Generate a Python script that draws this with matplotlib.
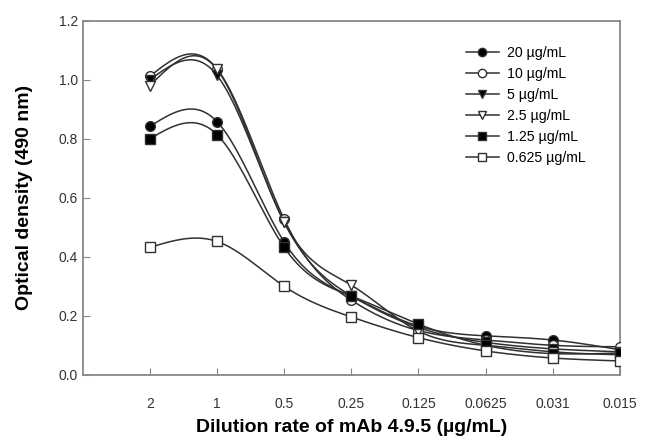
import matplotlib
matplotlib.use('Agg')
import matplotlib.pyplot as plt
import numpy as np

plt.rcParams['font.family'] = ['Liberation Sans', 'DejaVu Sans']

dilutions = ['2', '1', '0.5', '0.25', '0.125', '0.0625', '0.031', '0.015']
labels = ['20 \u00b5g/mL', '10 \u00b5g/mL', '5 \u00b5g/mL', '2.5 \u00b5g/mL',
          '1.25 \u00b5g/mL', '0.625 \u00b5g/mL']

od_20 = [0.842, 0.858, 0.450, 0.265, 0.165, 0.132, 0.118, 0.085]
od_10 = [1.012, 1.037, 0.527, 0.253, 0.150, 0.118, 0.100, 0.095]
od_5 = [1.000, 1.015, 0.517, 0.268, 0.160, 0.110, 0.088, 0.078]
od_2_5 = [0.980, 1.035, 0.517, 0.304, 0.148, 0.100, 0.078, 0.068]
od_1_25 = [0.800, 0.814, 0.432, 0.267, 0.172, 0.100, 0.072, 0.074]
od_0_625 = [0.432, 0.452, 0.300, 0.196, 0.126, 0.081, 0.057, 0.047]

series = [od_20, od_10, od_5, od_2_5, od_1_25, od_0_625]
markers = ['o', 'o', 'v', 'v', 's', 's']
fills = ['black', 'white', 'black', 'white', 'black', 'white']


def natural_spline(x, y, xs):
    # natural cubic spline, plain numpy
    x = np.asarray(x, float)
    y = np.asarray(y, float)
    n = len(x)
    h = np.diff(x)
    A = np.zeros((n, n))
    b = np.zeros(n)
    A[0, 0] = A[-1, -1] = 1
    for i in range(1, n - 1):
        A[i, i - 1] = h[i - 1]
        A[i, i] = 2 * (h[i - 1] + h[i])
        A[i, i + 1] = h[i]
        b[i] = 3 * ((y[i + 1] - y[i]) / h[i] - (y[i] - y[i - 1]) / h[i - 1])
    c = np.linalg.solve(A, b)
    out = np.empty_like(xs)
    for k, xv in enumerate(xs):
        i = min(max(np.searchsorted(x, xv) - 1, 0), n - 2)
        dx = xv - x[i]
        bi = (y[i + 1] - y[i]) / h[i] - h[i] * (2 * c[i] + c[i + 1]) / 3
        di = (c[i + 1] - c[i]) / (3 * h[i])
        out[k] = y[i] + bi * dx + c[i] * dx ** 2 + di * dx ** 3
    return out


fig = plt.figure(figsize=(6.47, 4.42), dpi=100)
ax = fig.add_axes([0.128, 0.152, 0.83, 0.801])

pos = np.arange(1, len(dilutions) + 1)
xs = np.linspace(1, len(dilutions), 400)

for vals, m, fc, lab in zip(series, markers, fills, labels):
    ax.plot(xs, natural_spline(pos, vals, xs), color='#303030', lw=1.1, zorder=2)
    ax.plot(pos, vals, linestyle='none', marker=m, markersize=7,
            markerfacecolor=fc, markeredgecolor='#303030', markeredgewidth=1,
            zorder=3)
    ax.plot([], [], color='#303030', lw=1.1, marker=m, markersize=6,
            markerfacecolor=fc, markeredgecolor='#303030', label=lab)

ax.set_xlim(0, 8)
ax.set_ylim(0, 1.2)
ax.set_xticks(pos)
ax.set_xticklabels(dilutions)
ax.set_yticks(np.arange(0, 1.21, 0.2))
ax.set_yticklabels(['%.1f' % v for v in np.arange(0, 1.21, 0.2)])

for s in ax.spines.values():
    s.set_color('#888888')
    s.set_linewidth(1.3)
ax.tick_params(direction='in', length=5, color='#888888', labelsize=10,
               labelcolor='#333333')
ax.tick_params(axis='x', pad=16)

ax.set_xlabel('Dilution rate of mAb 4.9.5 (\u00b5g/mL)', fontsize=14,
              fontweight='bold')
ax.set_ylabel('Optical density (490 nm)', fontsize=14, fontweight='bold')
ax.xaxis.set_label_coords(0.5, -0.125)
ax.yaxis.set_label_coords(-0.093, 0.5)

ax.legend(loc='upper left', bbox_to_anchor=(0.69, 0.965), frameon=False,
          fontsize=10.2, handlelength=2.3, labelspacing=0.5, handletextpad=0.6)

fig.savefig('out.png', dpi=100)
